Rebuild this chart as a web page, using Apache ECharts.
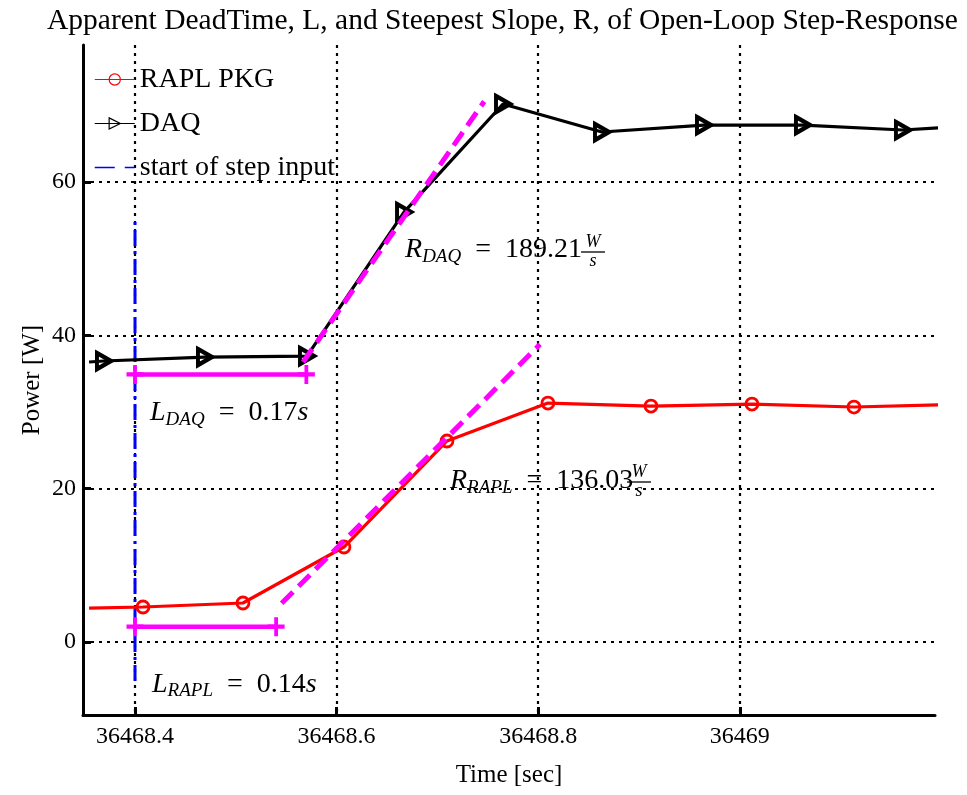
<!DOCTYPE html>
<html>
<head>
<meta charset="utf-8">
<script src="https://cdn.jsdelivr.net/npm/echarts@6.0.0/dist/echarts.min.js"></script>
<style>
  html, body { margin: 0; padding: 0; background: #fff; }
  #chart { width: 967px; height: 795px; }
</style>
</head>
<body>
<div id="chart"></div>
<script>
const SERIF = '"Liberation Serif", "DejaVu Serif", serif';

// axis extents (sec / W)
const xMin = 36468.3484, xMax = 36469.1937;
const yMin = -9.52, yMax = 77.87;
const xTicks = [36468.4, 36468.6, 36468.8, 36469];
const yTicks = [0, 20, 40, 60];

// RAPL PKG samples
const raplTime = [36468.3544, 36468.4079, 36468.5071, 36468.6073, 36468.7095, 36468.8097, 36468.9119, 36469.0121, 36469.1133, 36469.2];
const raplPower = [4.43, 4.57, 5.09, 12.39, 26.22, 31.17, 30.78, 31.04, 30.65, 30.93];

// DAQ samples
const daqTime = [36468.3544, 36468.3692, 36468.4694, 36468.5706, 36468.6669, 36468.7651, 36468.8633, 36468.9645, 36469.0627, 36469.1619, 36469.2];
const daqPower = [36.52, 36.65, 37.17, 37.30, 56.08, 70.17, 66.52, 67.43, 67.43, 66.78, 67.1];

// step input marker
const stepTime = 36468.4;
const stepSpan = [-5.1, 54.8];

// steepest slope lines
const daqSlopeX = [36468.5667, 36468.7464];
const daqSlopeY = [36.5, 70.5];
const raplSlopeX = [36468.5455, 36468.8018];
const raplSlopeY = [5.05, 38.83];

// dead time bars
const daqDeadX = [36468.4, 36468.57];
const daqDeadY = 34.9;
const raplDeadX = [36468.4, 36468.54];
const raplDeadY = 2.0;

// annotations
const noteX = [36468.4149, 36468.4169, 36468.6679, 36468.8425, 36468.7125, 36468.8881];
const noteY = [29.9, -5.5, 51.13, 50.87, 21.0, 20.87];
const noteText = [
  '{it|L}{sub|DAQ}{rm|\u2002=\u20020.17}{it|s}',
  '{it|L}{sub|RAPL}{rm|\u2002=\u20020.14}{it|s}',
  '{it|R}{sub|DAQ}{rm|\u2002=\u2002189.21}',
  '{num|W}\n{bar|}\n{den|s}',
  '{it|R}{sub|RAPL}{rm|\u2002=\u2002136.03}',
  '{num|W}\n{bar|}\n{den|s}'
];

const TRI = 'path://M0,0L10,5L0,10Z';
const PLUS = 'path://M7,0H11V7H18V11H11V18H7V11H0V7H7Z';
const MAGENTA = '#ff00ff';

const pairs = (xs, ys) => xs.map((x, i) => [x, Array.isArray(ys) ? ys[i] : ys]);
const edgeless = (xs, ys) => xs.map((x, i) => ({
  value: [x, ys[i]],
  symbol: (i === 0 || i === xs.length - 1) ? 'none' : undefined
}));

const gridLine = { show: true, lineStyle: { color: '#000', width: 2.2, type: [3, 5] } };

const chart = echarts.init(document.getElementById('chart'));
chart.setOption({
  animation: false,
  backgroundColor: '#fff',
  title: {
    text: 'Apparent DeadTime, L, and Steepest Slope, R, of Open-Loop Step-Response',
    left: 42,
    top: 1,
    textStyle: { fontFamily: SERIF, fontWeight: 'normal', fontSize: 29.5, color: '#000' }
  },
  grid: { left: 83, right: 32, top: 45, bottom: 80 },
  legend: {
    left: 89,
    top: 60,
    orient: 'vertical',
    itemWidth: 40,
    itemHeight: 14,
    itemGap: 15,
    textStyle: { fontFamily: SERIF, fontSize: 28, color: '#000', lineHeight: 29 },
    lineStyle: { width: 1.2 },
    itemStyle: { borderWidth: 1.2 },
    data: [
      'RAPL PKG',
      'DAQ',
      { name: 'start of step input', lineStyle: { type: [20, 10], width: 1.5 }, itemStyle: { opacity: 0 } }
    ]
  },
  xAxis: {
    type: 'value',
    min: xMin,
    max: xMax,
    name: 'Time [sec]',
    nameLocation: 'middle',
    nameGap: 48,
    nameTextStyle: { fontFamily: SERIF, fontSize: 25, color: '#000' },
    axisLine: { onZero: false, lineStyle: { color: '#000', width: 3 } },
    axisTick: { inside: true, length: 8, customValues: xTicks, lineStyle: { color: '#000', width: 3 } },
    axisLabel: {
      customValues: xTicks,
      fontFamily: SERIF, fontSize: 24, color: '#000', margin: 10,
      formatter: v => String(Math.round(v * 10) / 10)
    },
    splitLine: gridLine
  },
  yAxis: {
    type: 'value',
    min: yMin,
    max: yMax,
    name: 'Power [W]',
    nameLocation: 'middle',
    nameGap: 38,
    nameMoveOverlap: false,
    nameTextStyle: { fontFamily: SERIF, fontSize: 25, color: '#000' },
    axisLine: { show: true, onZero: false, lineStyle: { color: '#000', width: 3 } },
    axisTick: { show: true, inside: true, length: 8, customValues: yTicks, lineStyle: { color: '#000', width: 3 } },
    axisLabel: { customValues: yTicks, fontFamily: SERIF, fontSize: 24, color: '#000', margin: 7 },
    splitLine: gridLine
  },
  series: [
    {
      name: 'RAPL PKG',
      type: 'line',
      data: edgeless(raplTime, raplPower),
      symbol: 'circle',
      symbolSize: 12,
      showAllSymbol: true,
      lineStyle: { color: '#ff0000', width: 3.2 },
      itemStyle: { color: 'rgba(0,0,0,0)', borderColor: '#ff0000', borderWidth: 2.8 },
      emphasis: { disabled: true },
      z: 3
    },
    {
      name: 'DAQ',
      type: 'line',
      data: edgeless(daqTime, daqPower),
      symbol: TRI,
      symbolSize: [14, 16],
      showAllSymbol: true,
      lineStyle: { color: '#000', width: 3.2 },
      itemStyle: { color: 'rgba(0,0,0,0)', borderColor: '#000', borderWidth: 4.2 },
      emphasis: { disabled: true },
      z: 3
    },
    {
      name: 'start of step input',
      type: 'line',
      data: pairs([stepTime, stepTime], stepSpan),
      symbol: 'none',
      lineStyle: { color: '#0000ff', width: 3, type: [16, 5, 3, 5] },
      itemStyle: { color: '#0000ff' },
      emphasis: { disabled: true },
      z: 2
    },
    {
      name: 'slope DAQ',
      type: 'line',
      data: pairs(daqSlopeX, daqSlopeY),
      symbol: 'none',
      lineStyle: { color: MAGENTA, width: 5, type: [16, 8] },
      emphasis: { disabled: true },
      z: 4
    },
    {
      name: 'slope RAPL',
      type: 'line',
      data: pairs(raplSlopeX, raplSlopeY),
      symbol: 'none',
      lineStyle: { color: MAGENTA, width: 5, type: [16, 8] },
      emphasis: { disabled: true },
      z: 4
    },
    {
      name: 'dead DAQ',
      type: 'line',
      data: pairs(daqDeadX, daqDeadY),
      symbol: PLUS,
      symbolSize: [17, 19],
      lineStyle: { color: MAGENTA, width: 4.5 },
      itemStyle: { color: MAGENTA },
      emphasis: { disabled: true },
      z: 4
    },
    {
      name: 'dead RAPL',
      type: 'line',
      data: pairs(raplDeadX, raplDeadY),
      symbol: PLUS,
      symbolSize: [17, 19],
      lineStyle: { color: MAGENTA, width: 4.5 },
      itemStyle: { color: MAGENTA },
      emphasis: { disabled: true },
      z: 4
    },
    {
      name: 'notes',
      type: 'scatter',
      symbolSize: 0,
      silent: true,
      z: 5,
      itemStyle: { opacity: 1 },
      data: noteX.map((x, i) => ({ value: [x, noteY[i]], label: { formatter: noteText[i] } })),
      label: {
        show: true,
        position: 'right',
        distance: 0,
        color: '#000',
        rich: {
          it: { fontFamily: SERIF, fontStyle: 'italic', fontSize: 28, color: '#000' },
          rm: { fontFamily: SERIF, fontSize: 28, color: '#000' },
          sub: { fontFamily: SERIF, fontStyle: 'italic', fontSize: 19, color: '#000', padding: [14, 0, 0, 0] },
          num: { fontFamily: SERIF, fontStyle: 'italic', fontSize: 18, color: '#000', width: 24, align: 'center', lineHeight: 15 },
          bar: { width: 24, height: 1.3, backgroundColor: '#000', lineHeight: 4 },
          den: { fontFamily: SERIF, fontStyle: 'italic', fontSize: 18, color: '#000', width: 24, align: 'center', lineHeight: 15 }
        }
      }
    }
  ]
});
</script>
</body>
</html>
